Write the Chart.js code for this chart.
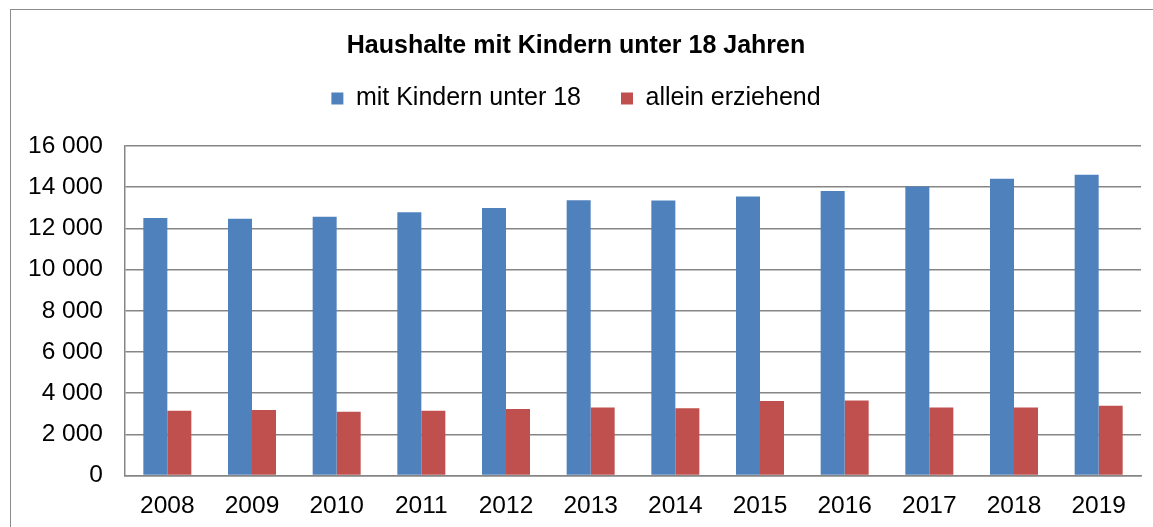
<!DOCTYPE html>
<html>
<head>
<meta charset="utf-8">
<script src="https://cdn.jsdelivr.net/npm/chart.js@4"></script>
<style>
  html, body { margin: 0; padding: 0; background: #fff; overflow: hidden; }
  #frame {
    position: absolute; left: 10px; top: 9px;
    border-left: 1px solid #8c8c8c; border-top: 1px solid #8c8c8c;
    width: 1200px; height: 560px;
  }
  canvas { display: block; }
</style>
</head>
<body>
<div id="frame"><canvas id="chart" width="1156" height="534"></canvas></div>
<script>
const years = ["2008", "2009", "2010", "2011", "2012", "2013", "2014", "2015", "2016", "2017", "2018", "2019"];
const withKids = [12500, 12470, 12570, 12780, 12990, 13370, 13350, 13550, 13820, 14030, 14410, 14600];
const singleParent = [3150, 3180, 3100, 3150, 3230, 3310, 3270, 3620, 3650, 3310, 3310, 3390];
const seriesNames = ["mit Kindern unter 18", "allein erziehend"];

const FONT = "'Liberation Sans', Arial, sans-serif";
const GRID = "#868686";

// extra space below the legend
const legendGap = {
  id: "legendGap",
  beforeInit(chart) {
    const fit = chart.legend.fit;
    chart.legend.fit = function () {
      fit.bind(chart.legend)();
      this.height += 25;
    };
  }
};

const fmt = v => String(v).replace(/\B(?=(\d{3})+(?!\d))/g, " ");

new Chart(document.getElementById("chart"), {
  type: "bar",
  data: {
    labels: years,
    datasets: [
      { label: seriesNames[0], data: withKids, backgroundColor: "#4F81BD" },
      { label: seriesNames[1], data: singleParent, backgroundColor: "#C0504D" }
    ]
  },
  options: {
    responsive: false,
    animation: false,
    categoryPercentage: 0.567,
    barPercentage: 1,
    layout: { padding: { left: 0, right: 26, top: 0, bottom: 8 } },
    plugins: {
      title: {
        display: true,
        text: "Haushalte mit Kindern unter 18 Jahren",
        color: "#000",
        font: { family: FONT, size: 25, weight: "bold", lineHeight: 1 },
        padding: { top: 24, bottom: -13 }
      },
      legend: {
        labels: {
          color: "#000",
          font: { family: FONT, size: 25 },
          boxWidth: 12,
          boxHeight: 12,
          padding: 40
        }
      },
      tooltip: { enabled: false }
    },
    scales: {
      x: {
        grid: { display: false, drawTicks: false },
        border: { color: GRID, width: 1.5 },
        ticks: { color: "#000", font: { family: FONT, size: 24.5 }, padding: 15.5, maxRotation: 0 }
      },
      y: {
        min: 0,
        max: 16000,
        afterFit(scale) { scale.width = 114; },
        grid: { color: GRID, lineWidth: 1.5, drawTicks: false },
        border: { color: GRID, width: 1.5 },
        ticks: {
          stepSize: 2000,
          color: "#000",
          font: { family: FONT, size: 24.5 },
          padding: 22,
          callback: v => fmt(v)
        }
      }
    }
  },
  plugins: [legendGap]
});
</script>
</body>
</html>
